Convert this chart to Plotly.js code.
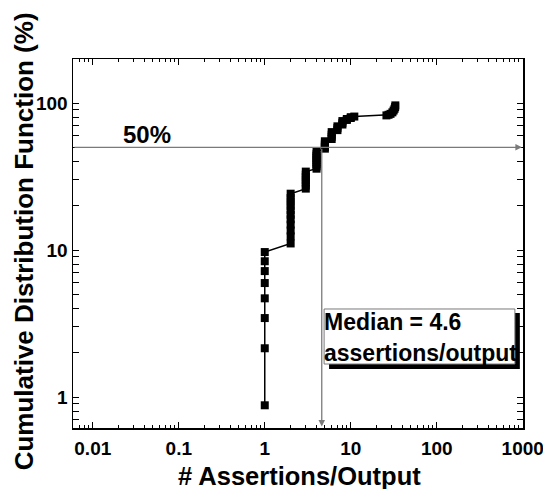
<!DOCTYPE html>
<html>
<head>
<meta charset="utf-8">
<script src="https://cdn.plot.ly/plotly-3.0.1.min.js"></script>
<style>html,body{margin:0;padding:0;background:#fff;}#chart{width:543px;height:489px;}</style>
</head>
<body>
<div id="chart"></div>
<script>
// Assertions per output (x) and cumulative percentage (y)
const assertionsPerOutput = [
  1, 1, 1, 1, 1, 1, 1, 1,
  2, 2, 2, 2, 2, 2, 2, 2, 2, 2, 2,
  3, 3, 3, 3, 3, 3, 3,
  4, 4, 4, 4, 4, 4, 4, 4, 4,
  5, 5, 5, 5, 5,
  6, 6, 6, 6,
  7, 7, 7,
  8, 8, 8,
  9, 9,
  10, 10,
  11,
  26, 27.5, 29, 30.5, 31.5, 32.3, 32.8, 33
];
const cdfPercent = [
  0.88, 2.15, 3.45, 4.7, 5.97, 7.2, 8.4, 9.7,
  11.1, 12.4, 13.6, 14.9, 16.2, 17.4, 18.7, 20.0, 21.3, 22.6, 24.2,
  26.2, 27.5, 28.8, 30.0, 31.3, 32.6, 34.2,
  35.8, 37.1, 38.4, 39.7, 41.0, 42.3, 43.6, 44.9, 46.8,
  49.0, 50.3, 51.6, 53.0, 55.0,
  57.0, 59.0, 61.0, 63.5,
  65.5, 67.5, 69.5,
  71.5, 73.5, 75.5,
  76.8, 78.0,
  79.2, 80.2,
  81.0,
  82.5, 83.3, 84.5, 86.5, 89.0, 91.5, 94.0, 96.5
];
const medianValue = 4.6;
const halfLevel = 50;
const xTickVals = [0.01, 0.1, 1, 10, 100, 1000];
const xTickText = ["0.01", "0.1", "1", "10", "100", "1000"];
const yTickVals = [1, 10, 100];
const yTickText = ["1", "10", "100"];
const xMinorVals = [0.006,0.007,0.008,0.009,0.02,0.03,0.04,0.05,0.06,0.07,0.08,0.09,0.2,0.3,0.4,0.5,0.6,0.7,0.8,0.9,2,3,4,5,6,7,8,9,20,30,40,50,60,70,80,90,200,300,400,500,600,700,800,900];
const yMinorVals = [0.7,0.8,0.9,2,3,4,5,6,7,8,9,20,30,40,50,60,70,80,90,200];
const xRangeLog = [-2.23, 3.003];
const yRangeLog = [-0.21, 2.30];
const xTitle = "# Assertions/Output";
const yTitle = "Cumulative Distribution Function (%)";

const FONT = "Liberation Sans, Arial, Helvetica, sans-serif";
const gray = "#7a7a7a";

const trace = {
  x: assertionsPerOutput,
  y: cdfPercent,
  type: "scatter",
  mode: "lines+markers",
  line: {color: "#000", width: 1.5},
  marker: {symbol: "square", size: 8, color: "#000"},
  cliponaxis: false,
  hoverinfo: "none"
};
// empty trace so that the label-only overlay axis exists
const labelTrace = {x: [], y: [], type: "scatter", mode: "markers", xaxis: "x2", yaxis: "y", hoverinfo: "none"};

const tickFont = {family: FONT, size: 19, color: "#000", weight: "bold"};
const axisCommon = {
  type: "log",
  showline: true, linecolor: "#000", linewidth: 1.5,
  mirror: "allticks",
  ticks: "inside", ticklen: 6, tickwidth: 1.2, tickcolor: "#000",
  showgrid: false, zeroline: false,
  tickmode: "array",
  tickfont: tickFont
};

const layout = {
  width: 543, height: 489,
  margin: {l: 73, r: 20, t: 59, b: 61},
  paper_bgcolor: "#fff", plot_bgcolor: "#fff",
  showlegend: false,
  xaxis: Object.assign({}, axisCommon, {
    range: xRangeLog, tickvals: xTickVals, ticktext: xTickText,
    showticklabels: false,
    minor: {tickmode: "array", tickvals: xMinorVals, ticks: "inside", ticklen: 3, tickwidth: 1, tickcolor: "#000", showgrid: false}
  }),
  xaxis2: {
    type: "log", overlaying: "x", anchor: "y", side: "bottom",
    range: xRangeLog, tickmode: "array", tickvals: xTickVals, ticktext: xTickText,
    ticks: "outside", ticklen: 3, tickcolor: "rgba(0,0,0,0)",
    showline: false, showgrid: false, zeroline: false,
    ticklabeloverflow: "allow",
    tickfont: tickFont
  },
  yaxis: Object.assign({}, axisCommon, {
    range: yRangeLog, tickvals: yTickVals, ticktext: yTickText,
    minor: {tickmode: "array", tickvals: yMinorVals, ticks: "inside", ticklen: 3, tickwidth: 1, tickcolor: "#000", showgrid: false}
  }),
  shapes: [
    // shadow of median box
    {type: "rect", xref: "paper", yref: "paper", x0: 0.569, x1: 0.993, y0: 0.160, y1: 0.3117,
     fillcolor: "#000", line: {width: 0}, layer: "above"},
    // median box
    {type: "rect", xref: "paper", yref: "paper", x0: 0.558, x1: 0.982, y0: 0.1734, y1: 0.3225,
     fillcolor: "#fff", line: {color: gray, width: 1}, layer: "above"}
  ],
  annotations: [
    // 50% horizontal arrow
    {xref: "x", yref: "y", axref: "x", ayref: "y",
     x: 3 - 0.01, y: Math.log10(halfLevel), ax: xRangeLog[0], ay: Math.log10(halfLevel),
     text: "", showarrow: true, arrowhead: 2, arrowsize: 1, arrowwidth: 1.3, arrowcolor: gray, standoff: 0},
    // median vertical arrow
    {xref: "x", yref: "y", axref: "x", ayref: "y",
     x: Math.log10(medianValue), y: yRangeLog[0] + 0.01, ax: Math.log10(medianValue), ay: Math.log10(halfLevel),
     text: "", showarrow: true, arrowhead: 2, arrowsize: 1, arrowwidth: 1.3, arrowcolor: gray, standoff: 0},
    {xref: "paper", yref: "paper", x: 0.106, y: 0.796, xanchor: "left", yanchor: "middle",
     text: halfLevel + "%", showarrow: false,
     font: {family: FONT, size: 24, color: "#000", weight: "bold"}},
    {xref: "paper", yref: "paper", x: 0.556, y: 0.287, xanchor: "left", yanchor: "middle",
     text: "Median = " + medianValue, showarrow: false, borderpad: 0,
     font: {family: FONT, size: 23, color: "#000", weight: "bold"}},
    {xref: "paper", yref: "paper", x: 0.556, y: 0.203, xanchor: "left", yanchor: "middle",
     text: "assertions/output", showarrow: false, borderpad: 0,
     font: {family: FONT, size: 23, color: "#000", weight: "bold"}},
    // axis titles
    {xref: "paper", yref: "paper", x: 0.504, y: -0.13, xanchor: "center", yanchor: "middle",
     text: xTitle, showarrow: false, borderpad: 0,
     font: {family: FONT, size: 25.5, color: "#000", weight: "bold"}},
    {xref: "paper", yref: "paper", x: -0.108, y: 0.507, xanchor: "center", yanchor: "middle",
     text: yTitle, textangle: -90, showarrow: false, borderpad: 0,
     font: {family: FONT, size: 26, color: "#000", weight: "bold"}}
  ]
};

Plotly.newPlot("chart", [trace, labelTrace], layout, {staticPlot: true, displayModeBar: false});
</script>
</body>
</html>
